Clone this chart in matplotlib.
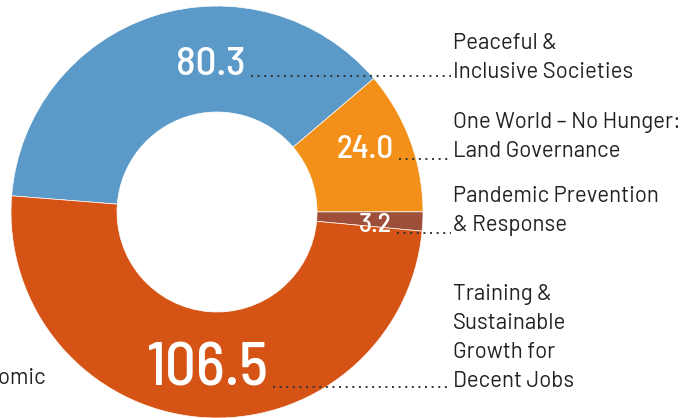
import matplotlib
matplotlib.use("Agg")
import matplotlib.pyplot as plt

# values (clockwise from the left edge)
categories = ["Peaceful &\nInclusive Societies",
              "One World – No Hunger:\nLand Governance",
              "Pandemic Prevention\n& Response",
              "Training &\nSustainable\nGrowth for\nDecent Jobs"]
values = [80.3, 24.0, 3.2, 106.5]
value_labels = ["80.3", "24.0", "3.2", "106.5"]
colors = ["#5b9ac8", "#f2901a", "#9e4f39", "#d65316"]

NUM_FONT = ["Barlow Semi Condensed", "Barlow Condensed", "DejaVu Sans"]
LBL_FONT = ["Barlow", "DejaVu Sans"]

W, H = 689, 418
fig = plt.figure(figsize=(W / 100, H / 100), dpi=100)
ax = fig.add_axes([0, 0, 1, 1])

cx, cy, R = 217, H - 212, 206
ax.pie(values, colors=colors, center=(cx, cy), radius=R, startangle=175.5,
       counterclock=False,
       wedgeprops=dict(width=R - 100, edgecolor="white", linewidth=0.5))
ax.set_xlim(0, W)
ax.set_ylim(0, H)
ax.set_aspect("equal")
ax.axis("off")

# number position (right edge, baseline in px from top), size in pt
num_pos = [(246, 75, 29.5), (394, 158, 23.8), (392, 232, 20), (268, 386, 44)]
label_x = 453
label_last_base = [78, 157, 231, 387]
line_h = 29

for lab, num, (nx, ny, fs), lb in zip(categories, value_labels, num_pos, label_last_base):
    ax.text(nx, H - ny, num, ha="right", va="baseline", color="white",
            fontsize=fs, fontweight="medium", family=NUM_FONT)
    ax.plot([nx + 5, label_x - 2], [H - ny - 1, H - ny - 1], color="#333333",
            lw=1.4, linestyle=(0, (1, 2.4)), dash_capstyle="butt")
    lines = lab.split("\n")
    for i, line in enumerate(lines):
        base = lb - (len(lines) - 1 - i) * line_h
        ax.text(label_x, H - base, line, ha="left", va="baseline",
                color="#222222", fontsize=16, family=LBL_FONT)

# label of a series that sits off the left edge of the crop
ax.text(47, H - 384, "Economic", ha="right", va="baseline",
        color="#222222", fontsize=16, family=LBL_FONT)

fig.savefig("out.png", dpi=100)
